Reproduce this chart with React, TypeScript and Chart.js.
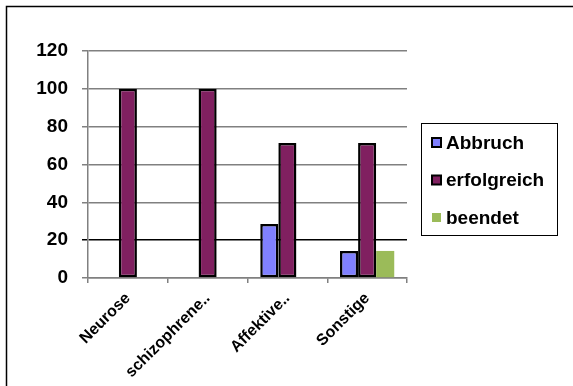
import React, { useEffect, useRef } from "react";
import { Chart, registerables } from "chart.js";

Chart.register(...registerables);

const categories = ["Neurose", "schizophrene..", "Affektive..", "Sonstige"];
const abbruch = [0, 0, 28.6, 14.3];
const erfolgreich = [100, 100, 71.4, 71.4];
const beendet = [0, 0, 0, 14.3];
const yTicks = [0, 20, 40, 60, 80, 100, 120];

const FONT = "'Liberation Sans', Arial, sans-serif";

const legendBox = {
  id: "legendBox",
  afterDraw(chart: any) {
    const ctx = chart.ctx;
    ctx.save();
    // outer frame
    ctx.strokeStyle = "#000";
    ctx.lineWidth = 1.5;
    ctx.strokeRect(6.5, 6.5, 700, 500);
    // legend box
    ctx.lineWidth = 1;
    ctx.strokeRect(421.5, 123.5, 136, 112);
    const ys = [142.5, 180, 217.5];
    ctx.font = `bold 19px ${FONT}`;
    ctx.textBaseline = "middle";
    ctx.textAlign = "left";
    chart.data.datasets.forEach((ds: any, i: number) => {
      const y = ys[i];
      ctx.fillStyle = ds.backgroundColor;
      ctx.fillRect(432, y - 4.5, 9, 9);
      if (ds.borderWidth > 0) {
        ctx.strokeStyle = "#000";
        ctx.lineWidth = 2;
        ctx.strokeRect(432, y - 4.5, 9, 9);
      }
      ctx.fillStyle = "#000";
      ctx.fillText(ds.label, 446, y + 1);
    });
    ctx.restore();
  },
};

export default function App() {
  const ref = useRef<HTMLCanvasElement>(null);
  useEffect(() => {
    document.body.style.margin = "0";
    const chart = new Chart(ref.current!, {
      type: "bar",
      data: {
        labels: categories,
        datasets: [
          { label: "Abbruch", data: abbruch, backgroundColor: "#8080FF", borderColor: "#000", borderWidth: 2.5, borderSkipped: false },
          { label: "erfolgreich", data: erfolgreich, backgroundColor: "#802060", borderColor: "#000", borderWidth: 2.5, borderSkipped: false },
          { label: "beendet", data: beendet, backgroundColor: "#9BBB59", borderWidth: 0, borderSkipped: false },
        ],
      },
      options: {
        responsive: false,
        animation: false,
        layout: { padding: { top: 51, right: 166, left: 0, bottom: 0 } },
        datasets: { bar: { categoryPercentage: 0.68, barPercentage: 1 } },
        plugins: { legend: { display: false }, tooltip: { enabled: false } },
        scales: {
          x: {
            afterFit: (s: any) => { s.height = 108; },
            grid: { offset: true, drawOnChartArea: false, color: "#808080", tickLength: 5, lineWidth: 1.5 },
            border: { color: "#808080", width: 1.5 },
            ticks: {
              autoSkip: false, minRotation: 45, maxRotation: 45, padding: 6,
              color: "#000", font: { family: FONT, size: 16, weight: "bold" },
            },
          },
          y: {
            min: 0, max: 120,
            afterFit: (s: any) => { s.width = 88; },
            afterBuildTicks: (s: any) => { s.ticks = yTicks.map((v) => ({ value: v })); },
            grid: {
              color: (c: any) => (c.tick && c.tick.value === 20 ? "#000" : "#808080"),
              lineWidth: 1.5, tickLength: 6,
            },
            border: { color: "#808080", width: 1.5 },
            ticks: { padding: 14, color: "#000", font: { family: FONT, size: 19, weight: "bold" } },
          },
        },
      },
      plugins: [legendBox],
    } as any);
    return () => chart.destroy();
  }, []);
  return <canvas ref={ref} width={573} height={386} style={{ display: "block" }} />;
}
